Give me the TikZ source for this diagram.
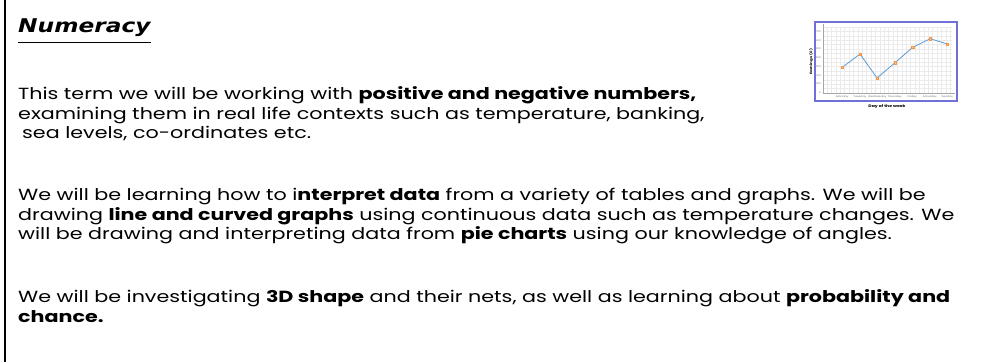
\documentclass[tikz,border=0pt]{standalone}
\usepackage{fontspec}
\setmainfont{Poppins}[FakeStretch=1.28]
\newfontfamily\titlefont{DejaVu Sans}[FakeStretch=1.23]
\usetikzlibrary{calc, positioning}
\definecolor{chartframe}{RGB}{112,112,214}
\definecolor{chartline}{RGB}{91,155,213}
\definecolor{chartmark}{RGB}{240,150,70}
\tikzset{
	bodyline/.style={anchor=base west, inner sep=0pt, font=\fontsize{16.2}{19.5}\selectfont},
	tinylabel/.style={inner sep=0pt, text=black!55, font=\fontsize{2.4}{3}\selectfont},
}

\begin{document}
\begin{tikzpicture}[x=1bp, y=-1bp]
\useasboundingbox[fill=white] (0,0) rectangle (984,362);
\draw[line width=2bp] (5,0) -- (5,362);
% heading
\node[anchor=base west, inner sep=0pt, font=\titlefont\bfseries\itshape\fontsize{19}{24}\selectfont] (title) at (18,32) {Numeracy};
\draw[line width=1.5bp] ($(title.base west)+(0,10.5)$) -- ($(title.base east)+(0,10.5)$);
% first paragraph
\node[bodyline] (pa1) at (18,99.5) {This term we will be working with \textbf{positive and negative numbers,}};
\node[bodyline] (pa2) at (18,119) {examining them in real life contexts such as temperature, banking,};
\node[bodyline] (pa3) at (22,138.5) {sea levels, co-ordinates etc.};
% second paragraph
\node[bodyline] (pb1) at (18,200.5) {We will be learning how to i\textbf{nterpret data} from a variety of tables and graphs. We will be};
\node[bodyline] (pb2) at (18,220) {drawing \textbf{line and curved graphs} using continuous data such as temperature changes. We};
\node[bodyline] (pb3) at (18,239.5) {will be drawing and interpreting data from \textbf{pie charts} using our knowledge of angles.};
% third paragraph
\node[bodyline] (pc1) at (18,302.5) {We will be investigating \textbf{3D shape} and their nets, as well as learning about \textbf{probability and}};
\node[bodyline] (pc2) at (18,322) {\textbf{chance.}};
% line graph
\begin{scope}
	\foreach \gx in {827,831.4,...,952} \draw[black!8, line width=.3bp] (\gx,27) -- (\gx,93);
	\foreach \gy in {27,31.4,...,93} \draw[black!8, line width=.3bp] (823,\gy) -- (952,\gy);
	\draw[black!35, line width=.4bp] (823,24) -- (823,93) -- (955,93);
	\foreach \v [count=\i from 0] in {0,100,...,700}
		\node[tinylabel, anchor=east] at (821,{92.7-8.72*\i}) {\v};
	\foreach \d [count=\i from 0] in {Monday,Tuesday,Wednesday,Thursday,Friday,Saturday,Sunday}
		\node[tinylabel] at ({842.3+17.5*\i},97) {\d};
	\draw[chartline, line width=.8bp] (842.3,67.3) -- (860,54) -- (877,78) -- (895,62.7) -- (912.7,47.3) -- (930.3,38.7) -- (947.3,44);
	\foreach \px/\py in {842.3/67.3, 860/54, 877/78, 895/62.7, 912.7/47.3, 930.3/38.7, 947.3/44}
		\filldraw[chartmark, fill=chartmark!60, line width=.4bp] (\px-1.3,\py-1.3) rectangle (\px+1.3,\py+1.3);
	\node[inner sep=0pt, rotate=90, font=\bfseries\fontsize{3.2}{4}\selectfont] (ylab) at (811,62) {Earnings (£)};
	\draw[chartframe, line width=1.3bp] (815,22) rectangle (957,101);
	\node[inner sep=0pt, font=\bfseries\fontsize{3.6}{4}\selectfont] (xlab) at (887,107) {Day of the week};
\end{scope}
\end{tikzpicture}
\end{document}
